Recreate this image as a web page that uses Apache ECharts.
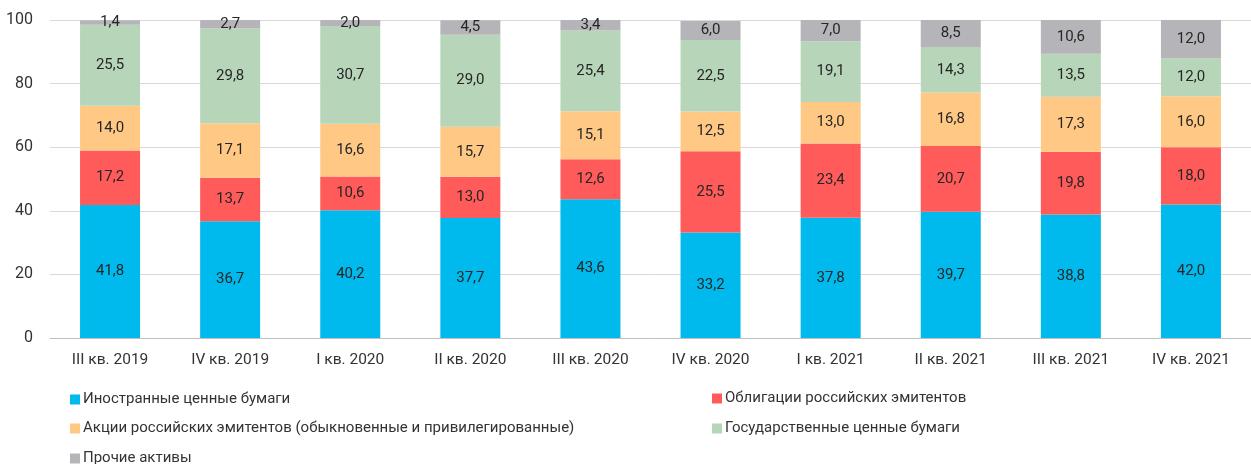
<!DOCTYPE html>
<html>
<head>
<meta charset="utf-8">
<script src="https://cdn.jsdelivr.net/npm/echarts@6/dist/echarts.min.js"></script>
<style>
    html, body { margin: 0; padding: 0; background: #fff; }
    #main { width: 1251px; height: 464px; }
</style>
</head>
<body>
<div id="main"></div>
<script>
    // кварталы
    let categories = ['III кв. 2019', 'IV кв. 2019', 'I кв. 2020', 'II кв. 2020', 'III кв. 2020',
        'IV кв. 2020', 'I кв. 2021', 'II кв. 2021', 'III кв. 2021', 'IV кв. 2021'];
    let foreignVals = [41.8, 36.7, 40.2, 37.7, 43.6, 33.2, 37.8, 39.7, 38.8, 42.0];
    let bondVals = [17.2, 13.7, 10.6, 13.0, 12.6, 25.5, 23.4, 20.7, 19.8, 18.0];
    let shareVals = [14.0, 17.1, 16.6, 15.7, 15.1, 12.5, 13.0, 16.8, 17.3, 16.0];
    let govVals = [25.5, 29.8, 30.7, 29.0, 25.4, 22.5, 19.1, 14.3, 13.5, 12.0];
    let otherVals = [1.4, 2.7, 2.0, 4.5, 3.4, 6.0, 7.0, 8.5, 10.6, 12.0];
    let yTicks = [0, 20, 40, 60, 80, 100];

    let names = ['Иностранные ценные бумаги', 'Облигации российских эмитентов',
        'Акции российских эмитентов (обыкновенные и привилегированные)',
        'Государственные ценные бумаги', 'Прочие активы'];
    let colors = ['#00b9ed', '#ff5b5b', '#ffc985', '#b7d5b9', '#b5b5b9'];
    let values = [foreignVals, bondVals, shareVals, govVals, otherVals];

    const font = 'Roboto, "Noto Sans", sans-serif';

    // легенда: две колонки, каждая запись отдельно
    let legendPos = [[65, 387], [707, 386], [65, 416], [707, 416], [65, 446]];
    let legends = names.map((n, i) => ({
        left: legendPos[i][0], top: legendPos[i][1],
        itemWidth: 10, itemHeight: 10, icon: 'rect',
        textStyle: { fontFamily: font, fontSize: 15, color: '#333', padding: [0, 0, 0, -2] },
        data: [n]
    }));

    let myChart = echarts.init(document.getElementById('main'), null, { renderer: 'canvas' });
    myChart.setOption({
        animation: false,
        grid: { left: 50, top: 20, width: 1210, height: 318 },
        legend: legends,
        xAxis: {
            type: 'category',
            data: categories,
            axisLine: { lineStyle: { color: '#bfbfbf' } },
            axisTick: { length: 5, lineStyle: { color: '#bfbfbf' } },
            axisLabel: { fontFamily: font, fontSize: 15.5, color: '#333', margin: 14 }
        },
        yAxis: {
            type: 'value',
            min: 0, max: 100, interval: 20,
            axisLine: { show: false },
            axisTick: { show: false },
            splitLine: { lineStyle: { color: '#d9d9d9' } },
            axisLabel: {
                fontFamily: font, fontSize: 16, color: '#333', margin: 17,
                formatter: (v) => yTicks.indexOf(v) >= 0 ? String(v) : ''
            }
        },
        series: values.map((arr, i) => ({
            name: names[i],
            type: 'bar',
            stack: 'total',
            data: arr,
            barWidth: 60,
            itemStyle: { color: colors[i] },
            label: {
                show: true,
                position: 'inside',
                fontFamily: font,
                fontSize: 15,
                color: '#262626',
                formatter: (p) => p.value.toFixed(1).replace('.', ',')
            }
        }))
    });
</script>
</body>
</html>
